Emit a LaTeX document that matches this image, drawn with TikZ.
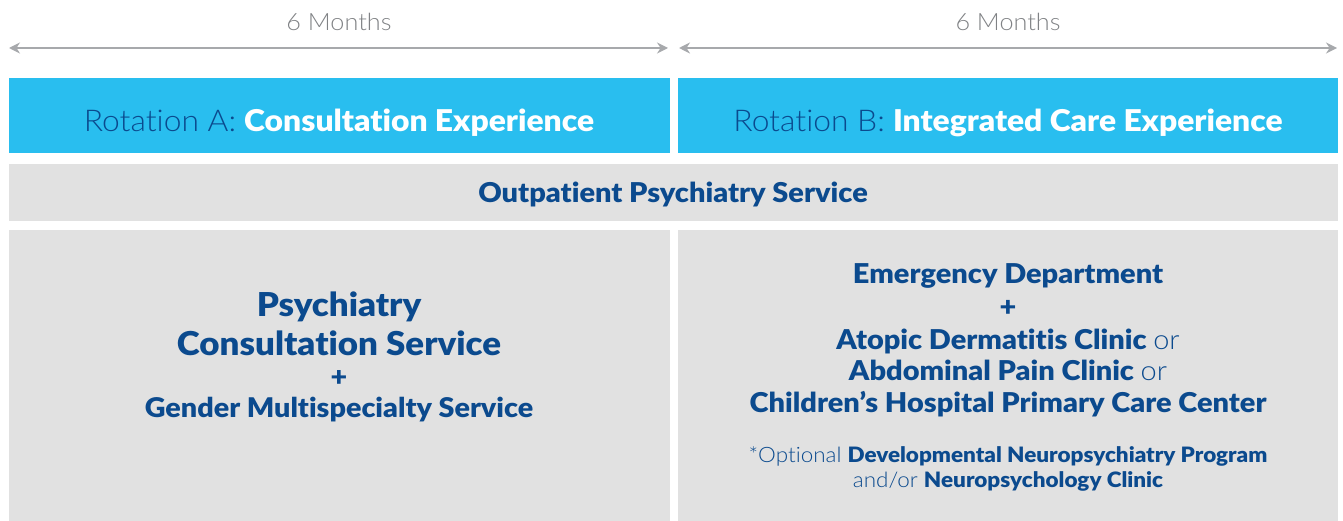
\documentclass[tikz,border=0pt]{standalone}
\usepackage{fontspec}
\setmainfont{Lato}[Ligatures=NoCommon, FakeStretch=1.06, BoldFont={Lato Black}]
\newfontfamily\lt{Lato Light}[Ligatures=NoCommon, FakeStretch=1.06]
\usetikzlibrary{arrows.meta}
\definecolor{skyblue}{HTML}{29BEEF}
\definecolor{navy}{HTML}{0B4A8E}
\definecolor{panel}{HTML}{E1E1E1}
\definecolor{arrowgray}{HTML}{A7A9AC}
\definecolor{labelgray}{HTML}{808285}
\tikzset{
  span/.style={draw=arrowgray, line width=2.4pt, {Stealth[length=11pt,width=11pt]}-{Stealth[length=11pt,width=11pt]}},
  months/.style={text=labelgray, font=\lt\fontsize{23.8}{26}\selectfont},
  bluebox/.style={fill=skyblue, draw=none},
  greybox/.style={fill=panel, draw=none},
  head/.style={text=navy, font=\fontsize{30}{33}\selectfont},
  bodytext/.style={text=navy, align=center, font=\bfseries\fontsize{27.3}{31.5}\selectfont},
}
\begin{document}
\begin{tikzpicture}[x=1pt,y=-1pt]
\useasboundingbox (0,0) rectangle (1343,521);
% arrows
\coordinate (a1) at (9,48);
\coordinate (a2) at (668,48);
\coordinate (b1) at (679,48);
\coordinate (b2) at (1337,48);
\draw[span] (a1) -- (a2);
\draw[span] (b1) -- (b2);
\node[months] (ma) at (339,22) {6 Months};
\node[months] (mb) at (1008,22) {6 Months};
% boxes
\fill[bluebox] (9,78) rectangle (669.5,153.5);
\fill[bluebox] (678,78) rectangle (1338,153.5);
\fill[greybox] (9,164) rectangle (1338,221.5);
\fill[greybox] (9,230) rectangle (669.5,521);
\fill[greybox] (678,230) rectangle (1338,521);
% headings
\node[head] (ra) at (339,123) {{\lt Rotation A:} \textcolor{white}{\bfseries Consultation Experience}};
\node[head] (rb) at (1008,123) {{\lt Rotation B:} \textcolor{white}{\bfseries Integrated Care Experience}};
\node[text=navy, font=\bfseries\fontsize{27.3}{30}\selectfont] (op) at (673,194) {Outpatient Psychiatry Service};
% left panel
\node[text=navy, align=center, font=\bfseries\fontsize{32.9}{39}\selectfont] (pcs) at (339,324) {Psychiatry\\Consultation Service};
\node[text=navy, font=\bfseries\fontsize{27.1}{30}\selectfont] (plusa) at (339,379) {+};
\node[text=navy, font=\bfseries\fontsize{27.1}{30}\selectfont] (gms) at (339,410) {Gender Multispecialty Service};
% right panel
\node[bodytext] (ed) at (1008,275.5) {Emergency Department};
\node[bodytext] (plusb) at (1008,308) {+};
\node[bodytext] (clin) at (1008,372.5) {Atopic Dermatitis Clinic {\lt\mdseries or}\\Abdominal Pain Clinic {\lt\mdseries or}\\Children’s Hospital Primary Care Center};
\node[text=navy, align=center, font=\lt\fontsize{21.2}{25}\selectfont] (opt) at (1008,468.5) {*Optional {\normalfont\bfseries Developmental Neuropsychiatry Program}\\and/or {\normalfont\bfseries Neuropsychology Clinic}};
\end{tikzpicture}
\end{document}
